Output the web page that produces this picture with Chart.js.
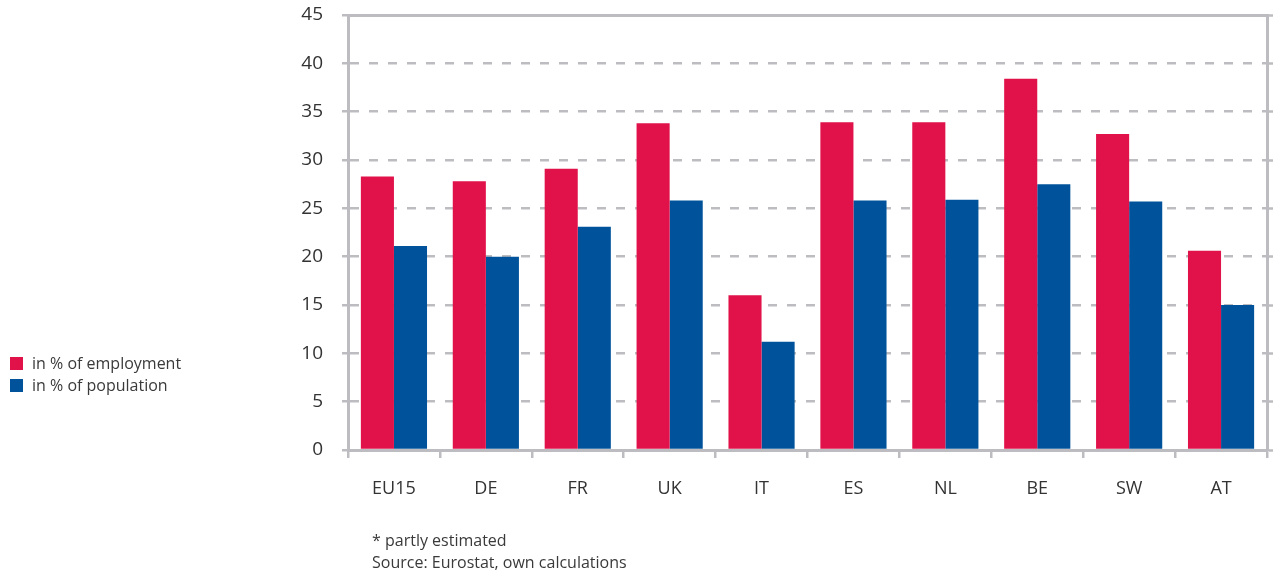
<!DOCTYPE html>
<html>
<head>
<meta charset="utf-8">
<script src="https://cdn.jsdelivr.net/npm/chart.js@4/dist/chart.umd.min.js"></script>
<style>
  html, body { margin: 0; padding: 0; background: #fff; }
  #wrap { position: relative; width: 1273px; height: 574px; font-family: "Open Sans", sans-serif; color: #3a3a3a; }
  #c { position: absolute; left: 0; top: 0; }
  .leg { position: absolute; left: 10px; font-size: 16px; line-height: 20px; white-space: nowrap; }
  .leg span.sw { display: inline-block; width: 13px; height: 13px; margin-right: 9px; vertical-align: -1px; }
  .note { position: absolute; left: 372px; font-size: 16px; line-height: 22px; white-space: nowrap; }
</style>
</head>
<body>
<div id="wrap">
  <canvas id="c" width="1273" height="574"></canvas>
  <div id="legend"></div>
  <div class="note" style="top:529px">* partly estimated<br>Source: Eurostat, own calculations</div>
</div>
<script>
const categories = ["EU15", "DE", "FR", "UK", "IT", "ES", "NL", "BE", "SW", "AT"];
const employmentShare = [28.3, 27.8, 29.1, 33.8, 16.0, 33.9, 33.9, 38.4, 32.7, 20.6];
const populationShare = [21.1, 20.0, 23.1, 25.8, 11.2, 25.8, 25.9, 27.5, 25.7, 15.0];
const seriesLabels = ["in % of employment", "in % of population"];
const seriesColors = ["#E1124A", "#00539B"];
const yTicks = [0, 5, 10, 15, 20, 25, 30, 35, 40, 45];

const grey = "#bdbdc1";
const datasets = [employmentShare, populationShare].map((d, i) => ({
  label: seriesLabels[i],
  data: d,
  backgroundColor: seriesColors[i],
  borderWidth: 0,
  categoryPercentage: 0.72,
  barPercentage: 1.0
}));

// HTML legend built from the dataset labels
const legendEl = document.getElementById("legend");
seriesLabels.forEach((lab, i) => {
  const d = document.createElement("div");
  d.className = "leg";
  d.style.top = (353 + i * 22) + "px";
  d.innerHTML = '<span class="sw" style="background:' + seriesColors[i] + '"></span>' + lab;
  legendEl.appendChild(d);
});

function zeroPad(s) { s.paddingTop = 0; s.paddingBottom = 0; s.paddingLeft = 0; s.paddingRight = 0; }

new Chart(document.getElementById("c"), {
  type: "bar",
  data: { labels: categories, datasets: datasets },
  options: {
    responsive: false,
    animation: false,
    layout: { padding: 0 },
    plugins: { legend: { display: false }, tooltip: { enabled: false } },
    scales: {
      x: {
        position: "bottom",
        offset: true,
        grid: { display: true, offset: true, drawOnChartArea: false, drawTicks: true, tickLength: 8, color: grey, lineWidth: 2.5, tickColor: grey, tickWidth: 2.5 },
        border: { display: true, color: grey, width: 3 },
        ticks: { color: "#333", font: { family: "Open Sans", size: 18 }, padding: 20, maxRotation: 0 },
        afterFit: s => { s.height = 124; zeroPad(s); }
      },
      xTop: {
        position: "top",
        type: "category",
        labels: categories,
        grid: { display: false, drawOnChartArea: false, drawTicks: false },
        border: { display: true, color: grey, width: 3 },
        ticks: { display: false },
        afterFit: s => { s.height = 15; zeroPad(s); }
      },
      y: {
        position: "left",
        min: 0, max: 45,
        afterBuildTicks: s => { s.ticks = yTicks.map(v => ({ value: v })); },
        grid: { color: grey, lineWidth: 2.5, tickLength: 6, tickColor: grey, tickWidth: 2.5, drawOnChartArea: true },
        border: { display: true, color: grey, width: 3, dash: [9, 10] },
        ticks: { color: "#333", font: { family: "Open Sans", size: 19 }, padding: 19 },
        afterFit: s => { s.width = 348; zeroPad(s); }
      },
      yRight: {
        position: "right",
        min: 0, max: 45,
        afterBuildTicks: s => { s.ticks = yTicks.map(v => ({ value: v })); },
        grid: { drawOnChartArea: false, tickLength: 6, tickColor: grey, tickWidth: 2.5, color: grey },
        border: { display: true, color: grey, width: 3 },
        ticks: { display: false, padding: 0 },
        afterFit: s => { s.width = 6; zeroPad(s); }
      }
    }
  }
});
</script>
</body>
</html>
